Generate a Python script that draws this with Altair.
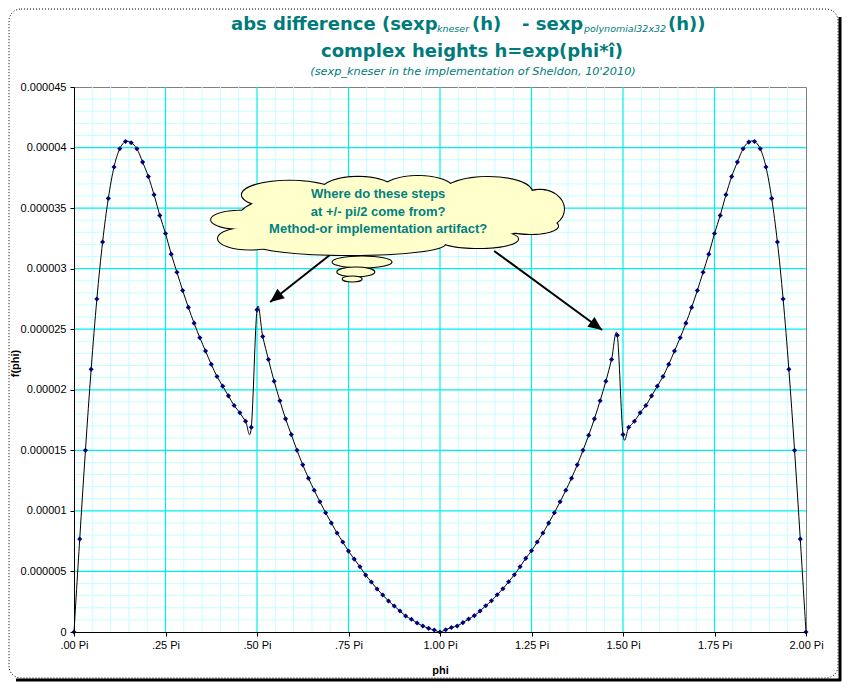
import altair as alt
import pandas as pd

# ---------------- data (in units of 1e-6) ----------------
points_per_pi = 64
f_micro = [
    0.0, 7.67, 15.0, 21.7, 27.5, 32.2, 35.8, 38.4, 39.9, 40.5,
    40.4, 39.9, 38.8, 37.6, 36.1, 34.4, 32.9, 31.2, 29.7, 28.2,
    26.8, 25.5, 24.3, 23.2, 22.1, 21.1, 20.3, 19.5, 18.7, 18.1,
    17.4, 16.9, 26.6, 24.4, 22.5, 20.7, 19.1, 17.6, 16.3, 15.0,
    13.8, 12.7, 11.7, 10.75, 9.85, 9.0, 8.17, 7.43, 6.68, 6.02,
    5.39, 4.70, 4.13, 3.55, 3.05, 2.56, 2.15, 1.73, 1.32, 1.05,
    0.74, 0.50, 0.30, 0.17, 0.0, 0.19, 0.37, 0.50, 0.77, 1.07,
    1.35, 1.73, 2.17, 2.58, 3.08, 3.57, 4.15, 4.73, 5.39, 6.08,
    6.71, 7.43, 8.17, 8.99, 9.85, 10.75, 11.7, 12.7, 13.8, 15.0,
    16.25, 17.6, 19.1, 20.7, 22.5, 24.5, 16.3, 16.9, 17.4, 18.1,
    18.7, 19.5, 20.3, 21.1, 22.1, 23.2, 24.3, 25.5, 26.8, 28.2,
    29.7, 31.2, 32.9, 34.4, 36.1, 37.6, 38.8, 39.9, 40.45, 40.5,
    39.9, 38.4, 35.8, 32.2, 27.5, 21.7, 15.0, 7.67, 0.0,
]
phi_pi = [i / points_per_pi for i in range(len(f_micro))]

x_ticks = [0, 0.25, 0.5, 0.75, 1.0, 1.25, 1.5, 1.75, 2.0]
x_tick_labels = [".00 Pi", ".25 Pi", ".50 Pi", ".75 Pi", "1.00 Pi",
                 "1.25 Pi", "1.50 Pi", "1.75 Pi", "2.00 Pi"]
y_ticks = [0, 5, 10, 15, 20, 25, 30, 35, 40, 45]
y_tick_labels = ["0", "0.000005", "0.00001", "0.000015", "0.00002",
                 "0.000025", "0.00003", "0.000035", "0.00004", "0.000045"]
x_minor = [k * 0.05 for k in range(1, 40) if k % 5 != 0]
y_minor = [k for k in range(1, 45) if k % 5 != 0]
x_major = [0.25, 0.5, 0.75, 1.0, 1.25, 1.5, 1.75]
y_major = [5, 10, 15, 20, 25, 30, 35, 40]

title_line1 = [
    # text, x, y (px, relative to plot origin), size, style, weight
    ("abs difference (sexp", 157, -57, 18, "normal", "bold"),
    ("kneser", 363, -55, 9.5, "italic", "normal"),
    ("(h)", 398, -57, 18, "normal", "bold"),
    ("- sexp", 448, -57, 18, "normal", "bold"),
    ("polynomial32x32", 510, -55, 9.5, "italic", "normal"),
    ("(h))", 594, -57, 18, "normal", "bold"),
]
title_line2 = "complex heights h=exp(phi*î)"
title_line3 = "(sexp_kneser in the implementation of Sheldon, 10'2010)"
cloud_lines = ["Where do these steps", "at +/- pi/2 come from?",
               "Method-or implementation artifact?"]

# ---------------- annotation geometry (data units: phi in Pi, f in 1e-6) ----------------
def ellipse(ratio):
    r = round(ratio, 3)
    return f"M-1,0 A1,{r} 0 1,0 1,0 A1,{r} 0 1,0 -1,0 Z"

cloud = pd.DataFrame([
    # phi, f, rx(px), ry(px)
    (0.590, 36.10, 48, 14),
    (0.776, 36.50, 36, 13),
    (0.940, 36.58, 35, 13),
    (1.131, 36.33, 44, 15),
    (1.273, 34.93, 24, 19),
    (0.454, 34.03, 29, 9),
    (0.481, 32.49, 32, 11),
    (0.754, 32.04, 95, 11),
    (1.104, 32.45, 40, 9),
    (1.246, 33.53, 28, 8),
    (0.863, 34.35, 150, 30),
], columns=["phi", "f", "rx", "ry"])
cloud["shape"] = [ellipse(ry / rx) for rx, ry in zip(cloud.rx, cloud.ry)]
cloud["size"] = [(2 * rx) ** 2 for rx in cloud.rx]

bubbles = pd.DataFrame([
    (0.787, 30.55, 30, 6),
    (0.770, 29.73, 19, 5),
    (0.760, 29.15, 10, 3),
], columns=["phi", "f", "rx", "ry"])
bubbles["shape"] = [ellipse(ry / rx) for rx, ry in zip(bubbles.rx, bubbles.ry)]
bubbles["size"] = [(2 * rx) ** 2 for rx in bubbles.rx]
bubbles["order"] = [0, 1, 2]

arrows = pd.DataFrame({
    "phi": [0.699, 1.148], "f": [31.13, 31.46],
    "phi2": [0.536, 1.443], "f2": [27.25, 24.94],
    "angle": [232, 126],
})

cloud_text = pd.DataFrame({"phi": [0.831] * 3, "f": [36.2, 34.72, 33.3],
                           "t": cloud_lines})

# ---------------- scales / axes ----------------
xscale = alt.Scale(domain=[0, 2], nice=False, zero=False)
yscale = alt.Scale(domain=[0, 45], nice=False, zero=False)
x_lbl = "[" + ",".join(f"'{s}'" for s in x_tick_labels) + "][round(datum.value*4)]"
y_lbl = "[" + ",".join(f"'{s}'" for s in y_tick_labels) + "][round(datum.value/5)]"
xaxis = alt.Axis(values=x_ticks, labelExpr=x_lbl, grid=False, title="phi",
                 domainColor="black", tickColor="black", tickSize=4,
                 labelFont="Liberation Sans", labelFontSize=11, labelColor="black",
                 labelPadding=3, labelFlush=False, zindex=1,
                 titleFont="Liberation Sans", titleFontSize=11, titleFontWeight="bold",
                 titleColor="black", titleX=366, titleY=38, titleBaseline="middle")
yaxis = alt.Axis(values=y_ticks, labelExpr=y_lbl, grid=False, title="f(phi)",
                 domainColor="black", tickColor="black", tickSize=4,
                 labelFont="Liberation Sans", labelFontSize=11, labelColor="black",
                 labelPadding=4, labelFlush=False, zindex=1,
                 titleFont="Liberation Sans", titleFontSize=11, titleFontWeight="bold",
                 titleColor="black", titleX=-59, titleY=276, titleAngle=270,
                 titleBaseline="middle")


def X(field="phi"):
    return alt.X(f"{field}:Q", scale=xscale, axis=xaxis)


def Y(field="f"):
    return alt.Y(f"{field}:Q", scale=yscale, axis=yaxis)


one = pd.DataFrame({"a": [0]})
df = pd.DataFrame({"phi": phi_pi, "f": f_micro})

# ---------------- layers ----------------
frame = alt.Chart(one).mark_rect(fillOpacity=0, stroke="black", strokeDash=[1, 2],
                                 strokeWidth=1, cornerRadius=12).encode(
    x=alt.value(-65), x2=alt.value(764), y=alt.value(-78), y2=alt.value(591))
shadow_r = alt.Chart(one).mark_rule(color="black", strokeWidth=3).encode(
    x=alt.value(766), y=alt.value(-70), y2=alt.value(594))
shadow_b = alt.Chart(one).mark_rule(color="black", strokeWidth=3).encode(
    y=alt.value(593), x=alt.value(-58), x2=alt.value(767))

g_xminor = alt.Chart(pd.DataFrame({"phi": x_minor})).mark_rule(
    color="#C4FFFF", strokeWidth=1).encode(x=X())
g_yminor = alt.Chart(pd.DataFrame({"f": y_minor})).mark_rule(
    color="#C4FFFF", strokeWidth=1).encode(y=Y())
g_xmajor = alt.Chart(pd.DataFrame({"phi": x_major})).mark_rule(
    color="#00F0F0", strokeWidth=1.2).encode(x=X())
g_ymajor = alt.Chart(pd.DataFrame({"f": y_major})).mark_rule(
    color="#00F0F0", strokeWidth=1.2).encode(y=Y())

line = alt.Chart(df).mark_line(color="black", strokeWidth=1,
                               interpolate="cardinal").encode(x=X(), y=Y())
pts = alt.Chart(df).mark_point(shape="diamond", filled=True, color="#000080",
                               size=26, opacity=1).encode(x=X(), y=Y())

shafts = alt.Chart(arrows).mark_rule(color="black", strokeWidth=2).encode(
    x=X(), y=Y(), x2="phi2:Q", y2="f2:Q")
heads = alt.Chart(arrows).mark_point(
    shape="M0,0 L0.7,1.6 L-0.7,1.6 Z", filled=True, color="black",
    size=300, opacity=1).encode(
    x=X("phi2"), y=Y("f2"), angle=alt.Angle("angle:Q", scale=None))

cloud_out = alt.Chart(cloud).mark_point(fill="#FFFFCC", fillOpacity=1, stroke="black",
                                        strokeWidth=2.2, opacity=1).encode(
    x=X(), y=Y(), shape=alt.Shape("shape:N", scale=None),
    size=alt.Size("size:Q", scale=None))
cloud_in = alt.Chart(cloud).mark_point(fill="#FFFFCC", fillOpacity=1, strokeWidth=0,
                                       opacity=1).encode(
    x=X(), y=Y(), shape=alt.Shape("shape:N", scale=None),
    size=alt.Size("size:Q", scale=None))
bub = alt.Chart(bubbles).mark_point(fill="#FFFFCC", fillOpacity=1, stroke="black",
                                    strokeWidth=1.1, opacity=1).encode(
    x=X(), y=Y(), shape=alt.Shape("shape:N", scale=None),
    size=alt.Size("size:Q", scale=None), order="order:Q")

ctext = alt.Chart(cloud_text).mark_text(font="Liberation Sans", fontSize=13,
                                        fontWeight="bold", color="#008080",
                                        align="center", baseline="middle").encode(
    x=X(), y=Y(), text="t:N")

teal = "#007B7B"
titles = []
for txt, tx, ty, fs, style, weight in title_line1:
    titles.append(alt.Chart(one).mark_text(
        text=txt, font="DejaVu Sans", fontSize=fs, fontWeight=weight, fontStyle=style,
        color=teal, align="left", baseline="alphabetic").encode(
        x=alt.value(tx), y=alt.value(ty)))
titles.append(alt.Chart(one).mark_text(
    text=title_line2, font="DejaVu Sans", fontSize=18, fontWeight="bold", color=teal,
    align="center", baseline="alphabetic").encode(x=alt.value(398), y=alt.value(-30)))
titles.append(alt.Chart(one).mark_text(
    text=title_line3, font="DejaVu Sans", fontSize=11.3, fontStyle="italic", color=teal,
    align="center", baseline="alphabetic").encode(x=alt.value(399), y=alt.value(-12)))

chart = alt.layer(
    frame, shadow_r, shadow_b,
    g_xminor, g_yminor, g_xmajor, g_ymajor,
    line, pts, shafts, heads,
    cloud_out, cloud_in, bub, ctext, *titles,
).properties(
    width=732, height=545,
    autosize=alt.AutoSizeParams(type="none"),
    padding={"left": 66, "top": 79, "right": 36, "bottom": 50},
).configure(background="white").configure_view(stroke="#808080", strokeWidth=1)

chart.save("out.html", embed_options={"renderer": "svg", "actions": False})
